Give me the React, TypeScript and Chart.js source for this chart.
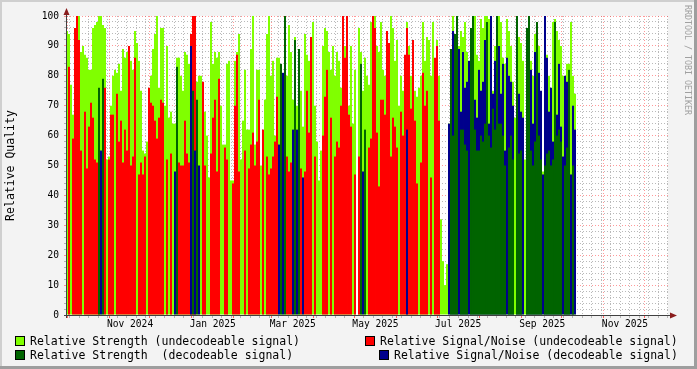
import React, { useEffect, useRef } from 'react';
import { Chart, registerables } from 'chart.js';

Chart.register(...registerables);

const _ = null;

// one sample every 1.475 days, first sample on 1 Oct 2024
const SAMPLE_DAYS = 1.475;

// Relative Strength (undecodeable signal)
const strengthUndecodeable = [
  95, 94, 77, 67, 93, 100, 100, 88, 90, 87,
  86, 82, 82, 96, 97, 98, 100, 100, 97, 96,
  52, 53, 70, 80, 82, 81, 84, 75, 89, 86, 88,
  89, 85, 82, 95, 91, 85, 75, 55, 54, 58,
  56, 80, 89, 94, 100, 76, 96, 96, 70, 90,
  66, 68, 64, 64, 86, 86, 80, 75, 88, 87,
  84, 94, 100, 98, 78, 80, 80, 67, 68, 60,
  46, 98, 84, 88, 86, 88, 70, 57, 57, 84, 85,
  45, 45, 85, 88, 94, 52, 65, 82, 62, 62,
  89, 100, 57, 82, 82, 50, 46, 72, 94, 100,
  80, 85, 60, 86, 86, 83, 80, 100, 80, 97,
  88, 72, 93, 70, 89, 75, 63, 94, 87, 85,
  93, 98, 70, 58, 45, 55, 90, 96, 95, 88, 82,
  90, 80, 88, 85, 76, 95, 90, 98, 70, 90,
  64, 82, _, 96, 88, 75, 86, 80, 77, 98,
  100, 100, 90, 88, 98, 82, 80, 85, 82, 100,
  96, 85, 92, 70, 80, 75, 78, 98, 90, 80,
  77, 75, 73, 76, 80, 98, 85, 93, 92, 80, 98,
  85, 92, 80, 32, 18, 10, 17, 64, 89, 100,
  94, 100, 90, 95, 93, 98, 88, 85, 96, 100,
  100, 87, 85, 99, 96, 100, 100, 99, 100, 75,
  90, 100, 100, 98, 86, 84, 99, 95, 90, 78,
  66, 95, 93, 91, 85, 52, 88, 75, 85, 80, 94,
  93, 90, 70, 48, 86, 87, 80, 66, 98, 99,
  95, 92, 90, 80, 75, 84, 84, 98, 80, 74,
];

// Relative Signal/Noise (undecodeable signal)
const snrUndecodeable = [
  _, 83, _, 59, 96, 100, 92, 55, _, 68,
  49, 63, 71, 66, 52, 51, 53, _, _, 76,
  _, 52, 67, 67, _, 74, 58, 65, 51, 62, 55,
  90, 50, 53, 86, _, 47, 51, 47, 53, _,
  76, 71, 70, 65, 59, 66, 72, 71, _, 52,
  _, 54, _, _, _, 51, 50, 50, 65, 54,
  51, 94, 100, 100, _, _, _, 78, 50, _,
  _, 54, 66, 72, 48, 79, _, _, 56, 52, _,
  _, 44, 70, 87, 48, _, _, 55, _, 49,
  57, 61, 50, 58, 72, _, 62, _, 53, 47,
  49, 53, 58, 73, _, _, _, _, 53, 48,
  51, _, _, _, _, 49, _, 48, 75, 61,
  93, _, 53, _, _, _, 60, 73, 82, _, 66,
  _, 53, 58, 56, 70, 100, 86, 100, 67, 63,
  _, 47, _, 53, _, _, _, _, 56, 59,
  100, 96, 61, 43, 72, 72, 67, 95, 91, 53,
  66, 63, 56, _, 68, 60, 87, 96, 87, 69,
  92, 65, 44, _, 51, 81, 70, 75, _, 46, _,
  86, 90, 65, _, _, _, _, _, _, _,
  _, _, _, _, _, _, _, _, _, _,
  _, _, _, _, _, _, _, _, _, _,
  _, _, _, _, _, _, _, _, _, _,
  _, _, _, _, _, _, _, _, _, _, _,
  _, _, _, _, _, _, _, _, _, _,
  _, _, _, _, _, _, _, _, _, _,
];

// Relative Strength (decodeable signal)
const strengthDecodeable = [
  _, _, _, _, _, _, _, _, _, _,
  _, _, _, _, _, _, 76, _, 79, _,
  _, _, _, _, _, _, _, _, _, _, _,
  _, _, _, _, _, _, _, _, _, _,
  _, _, _, _, _, _, _, _, _, _,
  _, _, _, _, 83, _, _, _, _, _,
  _, _, 75, _, 72, _, _, _, _, _,
  _, _, _, _, _, _, _, _, _, _, _,
  _, _, _, _, _, _, _, _, _, _,
  _, _, _, _, _, _, _, _, _, _,
  _, _, _, _, _, 84, _, 100, _, _,
  _, _, 92, _, 89, _, _, _, _, _,
  _, _, _, _, _, _, _, _, _, _, _,
  _, _, _, _, _, _, _, _, _, _,
  _, _, _, _, 84, _, 62, _, _, _,
  _, _, _, _, _, _, _, _, _, _,
  _, _, _, _, _, _, _, _, _, _,
  _, _, _, _, _, _, _, _, _, _, _,
  _, _, _, _, _, _, _, _, 89, 60,
  94, 100, _, 62, 62, 57, 55, _, 96, 100,
  62, 55, 55, 60, 58, 64, 98, 60, 56, 69,
  62, 100, 64, 64, 60, 50, _, 56, 60, 52,
  _, 100, 54, 55, _, _, 96, 100, 55, 50, 58,
  98, 60, 52, _, 50, 54, 55, 50, 52, 98,
  60, 62, 58, _, 50, 56, 82, _, 50, _,
];

// Relative Signal/Noise (decodeable signal)
const snrDecodeable = [
  _, _, _, _, _, _, _, _, _, _,
  _, _, _, _, _, _, _, 55, _, _,
  _, _, _, _, _, _, _, _, _, _, _,
  _, _, _, _, _, _, _, _, _, _,
  _, _, _, _, _, _, _, _, _, _,
  _, _, _, 48, _, _, _, _, _, _,
  _, 90, _, 55, _, 50, _, _, _, _,
  _, _, _, _, _, _, _, _, _, _, _,
  _, _, _, _, _, _, _, _, _, _,
  _, _, _, _, _, _, _, _, _, _,
  _, _, _, _, 57, _, 81, _, _, _,
  _, 62, _, 62, _, _, 46, _, _, _,
  _, _, _, _, _, _, _, _, _, _, _,
  _, _, _, _, _, _, _, _, _, _,
  _, _, _, _, _, 48, _, _, _, _,
  _, _, _, _, _, _, _, _, _, _,
  _, _, _, _, _, _, _, 62, _, _,
  _, _, _, _, _, _, _, _, _, _, _,
  _, _, _, _, _, _, _, 64, 78, 95,
  53, 65, 89, 68, 88, 76, 78, 85, 54, 80,
  72, 66, 82, 75, 78, 92, 65, 64, 100, 74,
  85, 97, 90, 74, 84, 55, 86, 80, 78, 70,
  _, 62, 74, 68, 66, _, 70, 50, 82, 64, 88,
  70, 81, 75, 47, 100, 86, 68, 76, 58, 74,
  67, 84, 63, 53, 80, 78, 49, 47, 70, 62,
];

const xTickLabels = ['Nov 2024', 'Jan 2025', 'Mar 2025', 'May 2025', 'Jul 2025', 'Sep 2025', 'Nov 2025'];
const seriesLabels = [
  'Relative Strength (undecodeable signal)',
  'Relative Signal/Noise (undecodeable signal)',
  'Relative Strength  (decodeable signal)',
  'Relative Signal/Noise (decodeable signal)',
];
const yAxisTitle = 'Relative Quality';
const watermark = 'RRDTOOL / TOBI OETIKER';

const C_LG = '#80FF00';
const C_RD = '#FF0000';
const C_DG = '#006400';
const C_BL = '#00008C';
const MINOR = 'rgba(128,128,128,0.55)';
const MAJOR = 'rgba(255,70,70,0.55)';
const FONT = 'DejaVu Sans Mono';

const X_MAX = 443.24;
const MONTH_NAMES = ['Jan', 'Feb', 'Mar', 'Apr', 'May', 'Jun', 'Jul', 'Aug', 'Sep', 'Oct', 'Nov', 'Dec'];
const dayOf = (y: number, m: number, d: number) => (Date.UTC(y, m, d) - Date.UTC(2024, 9, 1)) / 86400000;

const monthStarts: number[] = [];
for (let i = 0; i < 16; i++) {
  const d = dayOf(2024, 9 + i, 1);
  if (d <= X_MAX) monthStarts.push(d);
}
const monthSet = new Set(monthStarts);
const weekLines: number[] = [];
for (let d = dayOf(2024, 9, 3); d <= X_MAX; d += 7) if (!monthSet.has(d)) weekLines.push(d);
const labelMap = new Map<number, string>();
xTickLabels.forEach((l) => {
  const m = MONTH_NAMES.indexOf(l.slice(0, 3));
  const y = Number(l.slice(4));
  labelMap.set(dayOf(y, m, 1) + 15.5, l);
});
const xTickValues = [...weekLines, ...monthStarts, ...labelMap.keys()].sort((a, b) => a - b);

const toPoints = (vals: (number | null)[]) => vals.map((v, i) => ({ x: i * SAMPLE_DAYS, y: v }));

const rrdPlugin = {
  id: 'rrdFrame',
  beforeDraw(chart: any) {
    const { ctx, width, height, chartArea: a } = chart;
    ctx.save();
    ctx.fillStyle = '#F3F3F3';
    ctx.fillRect(0, 0, width, height);
    ctx.fillStyle = '#CFCFCF';
    ctx.fillRect(0, 0, width, 2);
    ctx.fillRect(0, 0, 2, height);
    ctx.fillStyle = '#9E9E9E';
    ctx.fillRect(0, height - 3, width, 3);
    ctx.fillRect(width - 3, 0, 3, height);
    ctx.fillStyle = '#FFFFFF';
    ctx.fillRect(a.left, a.top, a.right - a.left, a.bottom - a.top);
    ctx.restore();
  },
  afterDraw(chart: any) {
    const { ctx, chartArea: a } = chart;
    ctx.save();
    ctx.strokeStyle = '#404040';
    ctx.lineWidth = 1;
    ctx.beginPath();
    ctx.moveTo(a.left - 0.5, a.bottom + 3);
    ctx.lineTo(a.left - 0.5, a.top - 5);
    ctx.moveTo(a.left - 3, a.bottom + 0.5);
    ctx.lineTo(a.right + 4, a.bottom + 0.5);
    ctx.stroke();
    ctx.fillStyle = '#8A1C1C';
    ctx.beginPath();
    ctx.moveTo(a.left - 0.5, a.top - 8);
    ctx.lineTo(a.left - 3.5, a.top - 1);
    ctx.lineTo(a.left + 2.5, a.top - 1);
    ctx.closePath();
    ctx.fill();
    ctx.beginPath();
    ctx.moveTo(a.right + 9, a.bottom + 0.5);
    ctx.lineTo(a.right + 2, a.bottom - 2.5);
    ctx.lineTo(a.right + 2, a.bottom + 3.5);
    ctx.closePath();
    ctx.fill();
    ctx.restore();
  },
};

const legendRows = [
  { label: seriesLabels[0], color: C_LG, sq: 15, tx: 30, top: 334 },
  { label: seriesLabels[1], color: C_RD, sq: 365, tx: 380, top: 334 },
  { label: seriesLabels[2], color: C_DG, sq: 15, tx: 30, top: 348 },
  { label: seriesLabels[3], color: C_BL, sq: 379, tx: 394, top: 348 },
];

export default function App() {
  const ref = useRef<HTMLCanvasElement>(null);

  useEffect(() => {
    if (!ref.current) return;
    const barDefaults = {
      grouped: false,
      barThickness: 2,
      borderWidth: 0,
      inflateAmount: 0,
    };
    const xColor = (v: number, major: string, minor: string) => {
      if (labelMap.has(v)) return 'rgba(0,0,0,0)';
      if (monthSet.has(v)) return major;
      return minor;
    };
    const chart = new Chart(ref.current, {
      type: 'bar',
      data: {
        datasets: [
          { ...barDefaults, label: seriesLabels[0], data: toPoints(strengthUndecodeable), backgroundColor: C_LG, order: 4 },
          { ...barDefaults, label: seriesLabels[1], data: toPoints(snrUndecodeable), backgroundColor: C_RD, order: 3 },
          { ...barDefaults, label: seriesLabels[3], data: toPoints(snrDecodeable), backgroundColor: C_BL, order: 2 },
          { ...barDefaults, label: seriesLabels[2], data: toPoints(strengthDecodeable), backgroundColor: C_DG, order: 1 },
        ] as any,
      },
      options: {
        responsive: false,
        animation: false,
        devicePixelRatio: 1,
        events: [],
        layout: { padding: { left: 0, top: 16, right: 29, bottom: 40 } },
        plugins: { legend: { display: false }, tooltip: { enabled: false } },
        scales: {
          x: {
            type: 'linear',
            min: 0,
            max: X_MAX,
            offset: false,
            z: 1,
            afterBuildTicks: (s: any) => {
              s.ticks = xTickValues.map((v) => ({ value: v }));
            },
            afterFit: (s: any) => {
              s.height = 14;
            },
            grid: {
              offset: false,
              lineWidth: 1,
              tickLength: 3,
              color: (c: any) => xColor(c.tick?.value, MAJOR, MINOR),
              tickColor: (c: any) => xColor(c.tick?.value, 'rgba(255,60,60,0.8)', MINOR),
            },
            border: { display: false, dash: [1, 2] },
            ticks: {
              autoSkip: false,
              maxRotation: 0,
              minRotation: 0,
              padding: 1,
              color: '#000',
              font: { family: FONT, size: 9.6 },
              callback: (v: any) => labelMap.get(v) ?? '',
            },
          },
          y: {
            type: 'linear',
            min: 0,
            max: 100,
            z: 1,
            afterFit: (s: any) => {
              s.width = 67;
            },
            grid: {
              lineWidth: 1,
              tickLength: 3,
              color: (c: any) => (Math.round(c.tick?.value) % 10 === 0 ? MAJOR : MINOR),
              tickColor: (c: any) => (Math.round(c.tick?.value) % 10 === 0 ? MAJOR : MINOR),
            },
            border: { display: false, dash: [1, 2] },
            ticks: {
              stepSize: 2,
              autoSkip: false,
              padding: 5,
              color: '#000',
              font: { family: FONT, size: 9.6 },
              callback: (v: any) => (Math.round(v) % 10 === 0 ? String(Math.round(v)) : ''),
            },
            title: {
              display: true,
              text: yAxisTitle,
              color: '#000',
              font: { family: FONT, size: 11.5 },
              padding: { top: 4, bottom: 0 },
            },
          },
        },
      } as any,
      plugins: [rrdPlugin],
    });
    return () => chart.destroy();
  }, []);

  return (
    <div style={{ position: 'fixed', left: 0, top: 0, width: 697, height: 369, overflow: 'hidden' }}>
      <canvas ref={ref} width={697} height={369} style={{ position: 'absolute', left: 0, top: 0, width: 697, height: 369 }} />
      {legendRows.map((r) => (
        <React.Fragment key={r.label}>
          <div
            style={{
              position: 'absolute',
              left: r.sq,
              top: r.top + 2,
              width: 8,
              height: 8,
              background: r.color,
              border: '1px solid #000',
            }}
          />
          <div
            style={{
              position: 'absolute',
              left: r.tx,
              top: r.top,
              fontFamily: FONT,
              fontSize: 11.5,
              lineHeight: '14px',
              whiteSpace: 'pre',
              color: '#000',
            }}
          >
            {r.label}
          </div>
        </React.Fragment>
      ))}
      <div
        style={{
          position: 'absolute',
          left: 683,
          top: 5,
          writingMode: 'vertical-rl',
          fontFamily: FONT,
          fontSize: 8.3,
          lineHeight: '10px',
          whiteSpace: 'pre',
          color: '#A0A0A0',
        }}
      >
        {watermark}
      </div>
    </div>
  );
}
